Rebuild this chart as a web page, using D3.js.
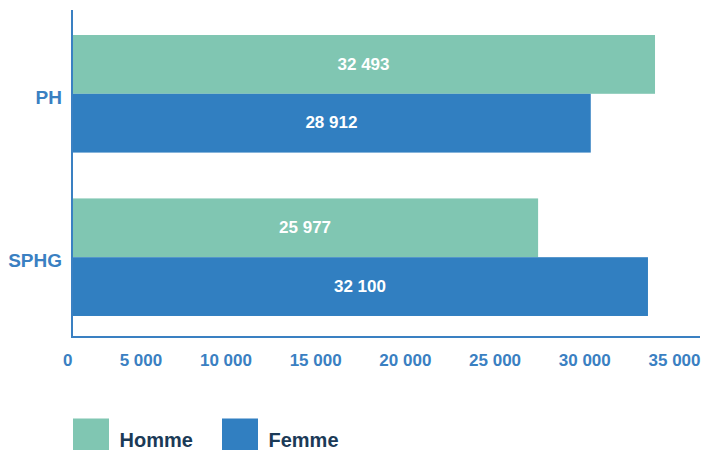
<!DOCTYPE html>
<html><head><meta charset="utf-8">
<script src="https://cdn.jsdelivr.net/npm/d3@7/dist/d3.min.js"></script>
<style>body{margin:0;background:#fff;} svg{display:block;}</style>
</head><body>
<svg id="chart" width="702" height="450"></svg>
<script>
const categories = ["PH", "SPHG"];
const seriesNames = ["Homme", "Femme"];
const homme = [32493, 25977];
const femme = [28912, 32100];
const tickValues = [0, 5000, 10000, 15000, 20000, 25000, 30000, 35000];
const colors = ["#80c6b2", "#317fc1"];

const fmt = v => d3.format(",")(v).replace(/,/g, " ");
const svg = d3.select("#chart");
const font = "'Liberation Sans', Arial, sans-serif";

const x = d3.scaleLinear().domain([0, 35000]).range([72, 700]);
const y0 = d3.scaleBand().domain(categories).range([14, 337]).paddingInner(0.2805).paddingOuter(0.1286);
const y1 = d3.scaleBand().domain(seriesNames).range([0, y0.bandwidth()]);

const data = categories.map((c, i) => ({cat: c, vals: [
  {name: "Homme", v: homme[i]}, {name: "Femme", v: femme[i]}]}));

const g = svg.append("g");
const groups = g.selectAll("g.grp").data(data).join("g")
  .attr("transform", d => `translate(0,${y0(d.cat)})`);
groups.selectAll("rect").data(d => d.vals).join("rect")
  .attr("x", x(0)).attr("y", d => y1(d.name))
  .attr("width", d => x(d.v) - x(0)).attr("height", y1.bandwidth())
  .attr("fill", (d, i) => colors[i]);
groups.selectAll("text").data(d => d.vals).join("text")
  .attr("x", d => (x(0) + x(d.v)) / 2).attr("y", d => y1(d.name) + y1.bandwidth() / 2 - 1)
  .attr("dy", "0.36em").attr("text-anchor", "middle")
  .attr("fill", "#fff").attr("font-family", font).attr("font-weight", "bold").attr("font-size", 17)
  .text(d => fmt(d.v));

// axes
const axisColor = "#3a80c2";
svg.append("line").attr("x1", 72).attr("x2", 72).attr("y1", 10).attr("y2", 337)
  .attr("stroke", axisColor).attr("stroke-width", 2);
svg.append("line").attr("x1", 71).attr("x2", 700).attr("y1", 337).attr("y2", 337)
  .attr("stroke", axisColor).attr("stroke-width", 2);

const xAxis = svg.append("g").attr("transform", "translate(0,337)")
  .call(d3.axisBottom(x).tickValues(tickValues).tickSize(0).tickPadding(0).tickFormat(fmt));
xAxis.select(".domain").remove();
xAxis.selectAll("text").attr("text-anchor", "end").attr("y", 29).attr("dy", 0)
  .attr("fill", axisColor).attr("font-family", font).attr("font-weight", "bold").attr("font-size", 17);

const yAxis = svg.append("g").attr("transform", "translate(62,0)")
  .call(d3.axisLeft(y0).tickSize(0).tickPadding(0));
yAxis.select(".domain").remove();
yAxis.selectAll("text").attr("fill", axisColor).attr("font-family", font)
  .attr("font-weight", "bold").attr("font-size", 19).attr("dy", "0.36em")
  .attr("transform", "translate(0,3)");

// legend
const legend = svg.append("g");
const lx = [73, 222];
seriesNames.forEach((n, i) => {
  legend.append("rect").attr("x", lx[i]).attr("y", 418.5).attr("width", 36).attr("height", 32).attr("fill", colors[i]);
  legend.append("text").attr("x", lx[i] + 46.5).attr("y", 447).attr("fill", "#1b3a57")
    .attr("font-family", font).attr("font-weight", "bold").attr("font-size", 20).text(n);
});
</script>
</body></html>
